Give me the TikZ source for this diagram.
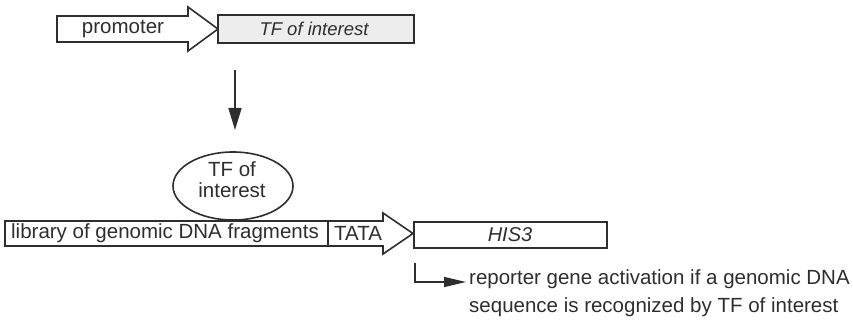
\documentclass[tikz,border=0pt]{standalone}
\usepackage{fontspec}
\setmainfont{Liberation Sans}
\usetikzlibrary{arrows.meta,shapes.geometric}
\definecolor{ink}{gray}{0.18}
\definecolor{shade}{gray}{0.93}
\tikzset{
  gene/.style={draw=ink, line width=1.6pt, line join=miter},
  lbl/.style={text=ink, inner sep=0pt, font=\fontsize{20.5}{24}\selectfont},
  ilbl/.style={lbl, font=\fontsize{20}{24}\selectfont\itshape},
  flow/.style={draw=ink, line width=1.6pt, -{Triangle[length=22pt,width=13pt]}},
  report/.style={draw=ink, line width=1.5pt, -{Triangle[length=22pt,width=10pt]}},
}
\begin{document}
\begin{tikzpicture}[x=1pt,y=-1pt]
\useasboundingbox (0,0) rectangle (853,320);

% expression construct: promoter driving the TF
\draw[gene] (57,16) -- (188,16) -- (188,7) -- (218,29) -- (188,51) -- (188,42) -- (57,42) -- cycle;
\draw[gene, fill=shade] (218,15) rectangle (414,43);
\node[lbl]  (prom) at (123,29) {promoter};
\node[ilbl, font=\fontsize{18.5}{22}\selectfont\itshape] (tfgene) at (314,29) {TF of interest};

% expression step
\coordinate (down0) at (235,70);
\coordinate (down1) at (235,130);
\draw[flow] (down0) -- (down1);

% the expressed factor bound upstream of the reporter
\node[draw=ink, line width=1.6pt, ellipse, minimum width=120pt, minimum height=68pt, inner sep=0pt] (tf) at (233,186) {};
\node[lbl, anchor=base] (tfa) at (232,177) {TF of};
\node[lbl, anchor=base] (tfb) at (232,198) {interest};

% reporter construct
\draw[gene] (5,221) rectangle (328,246);
\draw[gene] (328,221) -- (383,221) -- (383,213) -- (413,233.5) -- (383,254) -- (383,246) -- (328,246);
\draw[gene] (414,222) rectangle (607,248);
\node[lbl]  (lib) at (165,233.5) {library of genomic DNA fragments};
\node[lbl]  (tata) at (358,233.5) {TATA};
\node[ilbl] (his) at (510,235) {HIS3};

% readout
\coordinate (r0) at (415,263);
\coordinate (r1) at (415,282);
\coordinate (r2) at (466,282);
\draw[report] (r0) -- (r1) -- (r2);
\node[lbl, anchor=west, align=left, font=\fontsize{20.5}{28}\selectfont] (readout) at (469,293)
  {reporter gene activation if a genomic DNA\\sequence is recognized by TF of interest};
\end{tikzpicture}
\end{document}
